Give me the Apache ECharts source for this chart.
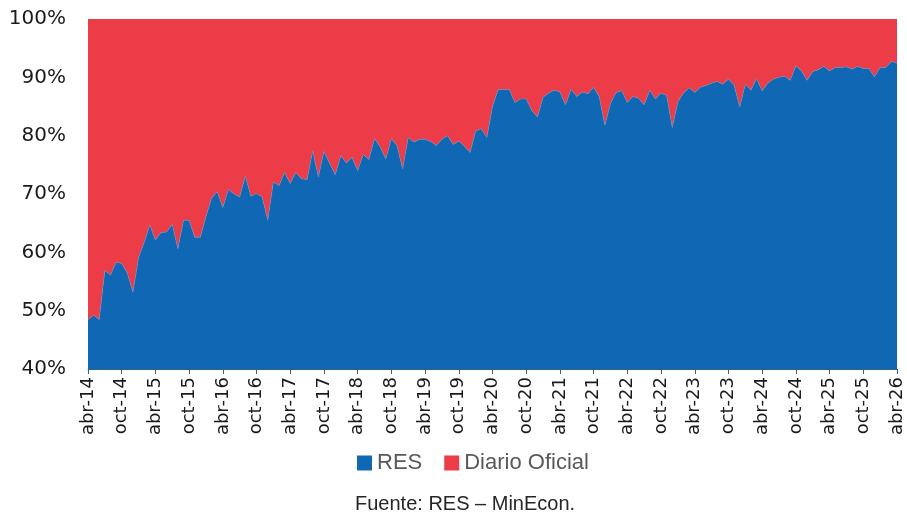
<!DOCTYPE html>
<html>
<head>
<meta charset="utf-8">
<script src="https://cdn.jsdelivr.net/npm/echarts@6/dist/echarts.min.js"></script>
<style>html,body{margin:0;padding:0;background:#fff;}#c{width:907px;height:515px;}</style>
</head>
<body>
<div id="c"></div>
<script>
const monthNames = ['ene','feb','mar','abr','may','jun','jul','ago','sep','oct','nov','dic'];
const startYear = 2014, startMonth = 3, nMonths = 145;
const categories = [];
for (let i = 0; i < nMonths; i++) {
  const m = (startMonth + i) % 12;
  const y = startYear + Math.floor((startMonth + i) / 12);
  categories.push(monthNames[m] + '-' + String(y).slice(2));
}
const resShare = [
  48.5, 49.2, 48.5, 56.9, 56.1, 58.3, 58.1, 56.4, 53.2, 59.1, 61.7, 64.7,
  62.1, 63.4, 63.5, 64.8, 60.6, 65.5, 65.5, 62.6, 62.6, 66.1, 69.3, 70.4,
  67.7, 70.8, 70.0, 69.5, 73.1, 69.6, 70.1, 69.5, 65.5, 72.1, 71.4, 73.7,
  71.8, 73.7, 72.6, 72.5, 77.4, 72.9, 77.3, 75.3, 73.3, 76.6, 75.3, 76.3,
  74.0, 76.8, 75.9, 79.5, 78.1, 76.0, 79.5, 78.3, 74.3, 79.7, 78.9, 79.4,
  79.4, 79.0, 78.3, 79.4, 80.0, 78.5, 79.1, 78.2, 77.1, 80.8, 81.2, 79.7,
  85.0, 87.9, 87.9, 87.9, 85.7, 86.3, 86.3, 84.3, 83.2, 86.6, 87.3, 87.8,
  87.5, 85.3, 88.0, 86.7, 87.5, 87.2, 88.3, 86.7, 81.8, 85.5, 87.4, 87.7,
  85.7, 86.7, 86.4, 85.3, 87.8, 86.3, 87.3, 86.9, 81.4, 85.8, 87.3, 88.2,
  87.4, 88.3, 88.6, 89.0, 89.3, 88.8, 89.7, 88.7, 84.9, 88.8, 87.8, 89.8,
  87.7, 89.0, 89.7, 90.0, 90.2, 89.5, 92.0, 91.1, 89.5, 91.0, 91.3, 91.9,
  91.1, 91.7, 91.7, 91.8, 91.4, 91.9, 91.5, 91.5, 90.1, 91.7, 91.7, 92.7,
  92.5
];
const diarioShare = resShare.map(v => +(100 - v).toFixed(1));
const yTicks = [40, 50, 60, 70, 80, 90, 100];

const chart = echarts.init(document.getElementById('c'));
chart.setOption({
  animation: false,
  grid: { left: 88, right: 10, top: 19, bottom: 146 },
  legend: {
    top: 447, left: 352,
    itemWidth: 15, itemHeight: 15, itemGap: 22,
    icon: 'rect',
    textStyle: { fontSize: 22, color: '#595959', fontFamily: 'Liberation Sans, Arial, sans-serif' },
    data: ['RES', 'Diario Oficial']
  },
  xAxis: {
    type: 'category', data: categories, boundaryGap: false,
    axisLine: { lineStyle: { color: '#2f6478', width: 1 } },
    axisTick: { interval: 5, alignWithLabel: true, length: 5, lineStyle: { color: '#2f6478' } },
    axisLabel: { interval: 5, rotate: 90, fontSize: 18, color: '#1a1a1a', margin: 8, fontFamily: 'DejaVu Sans, sans-serif' }
  },
  yAxis: {
    type: 'value', min: yTicks[0], max: yTicks[yTicks.length - 1], interval: 10,
    axisLine: { show: false }, axisTick: { show: false },
    splitLine: { lineStyle: { color: '#d9d9d9' } },
    axisLabel: { formatter: '{value}%', fontSize: 20, color: '#1a1a1a', margin: 22, fontFamily: 'DejaVu Sans, sans-serif' }
  },
  series: [
    { name: 'RES', type: 'line', stack: 'total', data: resShare, symbol: 'none',
      lineStyle: { width: 0.6, color: '#5a8fc4' }, itemStyle: { color: '#1068b4' },
      areaStyle: { color: '#1068b4', opacity: 1 } },
    { name: 'Diario Oficial', type: 'line', stack: 'total', data: diarioShare, symbol: 'none',
      lineStyle: { width: 0 }, itemStyle: { color: '#eb3c48' },
      areaStyle: { color: '#eb3c48', opacity: 1 } }
  ],
  graphic: [{
    type: 'text', left: 355, top: 494,
    style: { text: 'Fuente: RES \u2013 MinEcon.', fontSize: 20, fill: '#262626', fontFamily: 'Liberation Sans, Arial, sans-serif' }
  }]
});
</script>
</body>
</html>
